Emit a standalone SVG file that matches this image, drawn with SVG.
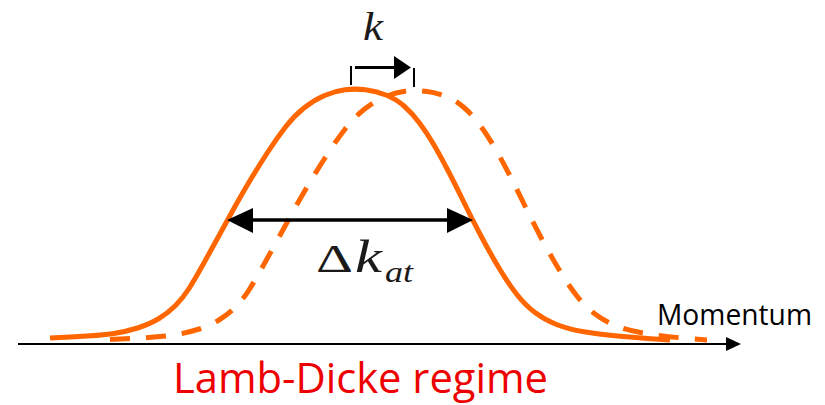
<svg xmlns="http://www.w3.org/2000/svg" xmlns:xlink="http://www.w3.org/1999/xlink" width="825" height="405" viewBox="0 0 825 405">
  <style>
    .curve { fill: none; stroke: #ff6600; stroke-width: 5; stroke-linejoin: round; }
    .dashed { stroke-dasharray: 20 16; }
    .ink { fill: none; stroke: #000; }
    .head { fill: #000; stroke: none; }
    .math { font-family: "Liberation Serif", "DejaVu Serif", serif; fill: #1a1a1a; }
    .hand { font-family: "Comic Sans MS", "Open Sans", "DejaVu Sans", sans-serif; }
  </style>
  <defs>
    <path id="gauss" d="M50,338 L75,336.75 Q100,335.5 112.5,333.75 Q125,332 137.5,328 Q150,324 159,318.5 Q168,313 175.5,305.5 Q183,298 189,288.5 Q195,279 202.5,265.5 Q210,252 218.5,236.5 Q227,221 235,206.5 Q243,192 251.5,178 Q260,164 268.5,151 Q277,138 285.5,127 Q294,116 304,108 Q314,100 324.5,95.5 Q335,91 345,89.75 Q355,88.5 365.5,89.75 Q376,91 386,95 Q396,99 404,106 Q412,113 419.5,123 Q427,133 434,145 Q441,157 448.5,171.5 Q456,186 464,202.5 Q472,219 481,236 Q490,253 499,268 Q508,283 516.5,294 Q525,305 535,312.5 Q545,320 556.5,324.5 Q568,329 584,331.75 Q600,334.5 620,336.25 Q640,338 655,339 L670,340"/>
    <clipPath id="dashclip">
      <rect x="0" y="0" width="707" height="405"/>
    </clipPath>
  </defs>

  <rect x="0" y="0" width="825" height="405" fill="#ffffff"/>

  <g id="axis">
    <line class="ink" x1="18" y1="344" x2="728" y2="344" stroke-width="2"/>
    <polygon class="head" points="726,337 741,344 726,351"/>
  </g>

  <g id="curve-dashed" clip-path="url(#dashclip)">
    <use xlink:href="#gauss" href="#gauss" class="curve dashed" transform="translate(60,1.5)"/>
  </g>

  <g id="curve-solid">
    <use xlink:href="#gauss" href="#gauss" class="curve"/>
  </g>

  <g id="connectors">
    <g id="k-shift">
      <line class="ink" x1="351" y1="66" x2="351" y2="85" stroke-width="2"/>
      <line class="ink" x1="414" y1="68" x2="414" y2="87" stroke-width="2"/>
      <line class="ink" x1="355" y1="67.5" x2="396" y2="67.5" stroke-width="3"/>
      <polygon class="head" points="394,56 411,67.5 394,79"/>
    </g>
    <g id="width-arrow">
      <line class="ink" x1="250" y1="220" x2="450" y2="220" stroke-width="3.5"/>
      <polygon class="head" points="227,220 253,208 253,233"/>
      <polygon class="head" points="473,220 447,208 447,233"/>
    </g>
  </g>

  <g id="label-k">
    <text class="math" x="363" y="40" font-size="40" font-style="italic" textLength="20" lengthAdjust="spacingAndGlyphs">k</text>
  </g>

  <g id="label-dk">
    <text class="math" x="316" y="272" font-size="40" textLength="37" lengthAdjust="spacingAndGlyphs">Δ</text>
    <text class="math" x="355" y="272" font-size="46" font-style="italic" textLength="27" lengthAdjust="spacingAndGlyphs">k</text>
    <text class="math" x="385" y="282" font-size="30" font-style="italic" textLength="28" lengthAdjust="spacingAndGlyphs">at</text>
  </g>

  <g id="label-momentum">
    <text class="hand" x="657" y="325" font-size="30" fill="#000" textLength="155" lengthAdjust="spacingAndGlyphs">Momentum</text>
  </g>

  <g id="label-regime">
    <text class="hand" x="173" y="393" font-size="42" fill="#ee0000" textLength="375" lengthAdjust="spacingAndGlyphs">Lamb-Dicke regime</text>
  </g>
</svg>
